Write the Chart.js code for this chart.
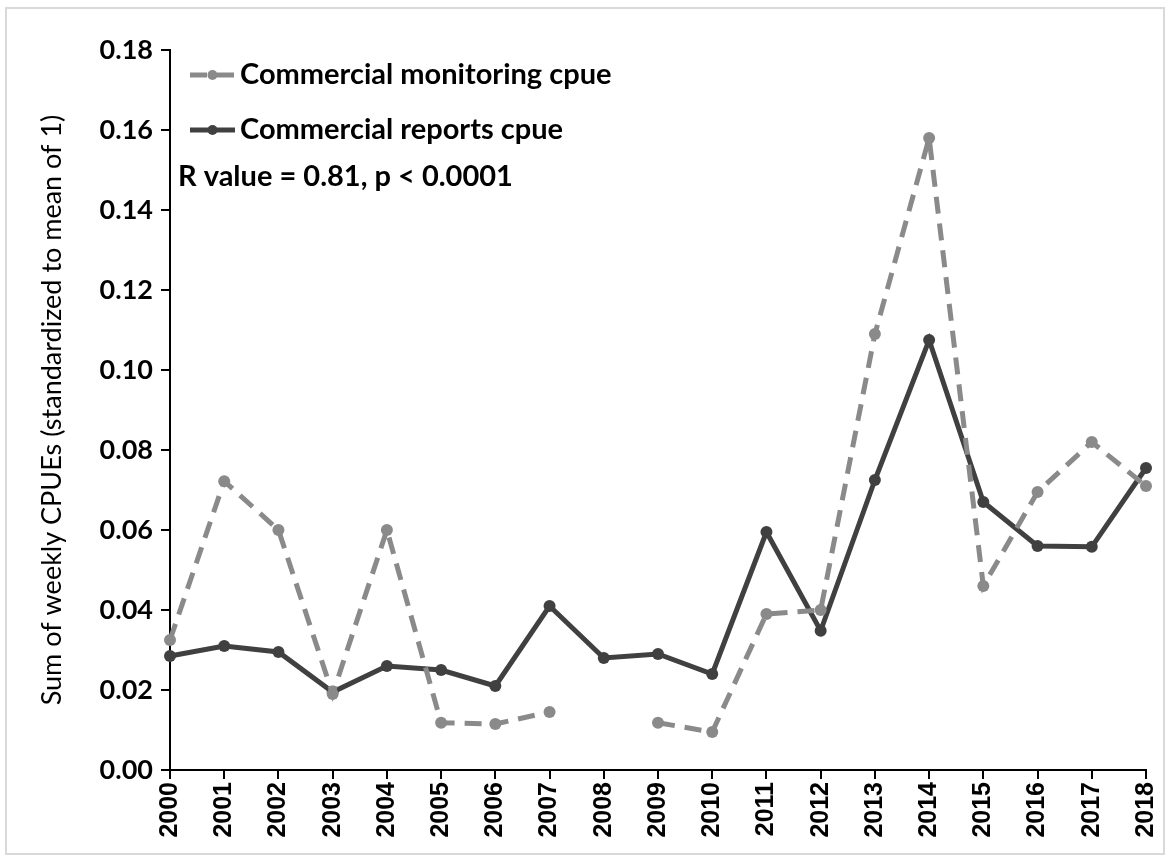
<!DOCTYPE html>
<html>
<head>
<meta charset="utf-8">
<script src="https://cdn.jsdelivr.net/npm/chart.js@4.4.0/dist/chart.umd.min.js"></script>
<style>
  html, body { margin: 0; padding: 0; background: #fff; }
  #wrap { position: absolute; left: 5px; top: 7px; width: 1160px; height: 848px; border: 2px solid #d9d9d9; box-sizing: border-box; }
  canvas { display: block; }
</style>
</head>
<body>
<div id="wrap"><canvas id="cpueChart"></canvas></div>
<script>
// Datos
const years = ['2000','2001','2002','2003','2004','2005','2006','2007','2008','2009',
               '2010','2011','2012','2013','2014','2015','2016','2017','2018'];
const monitoringCpue = [0.0325, 0.0722, 0.060, 0.019, 0.060, 0.0118, 0.0115, 0.0145, null, 0.0118,
                        0.0095, 0.039, 0.040, 0.109, 0.158, 0.046, 0.0695, 0.082, 0.071];
const reportsCpue = [0.0285, 0.031, 0.0295, 0.0195, 0.026, 0.025, 0.021, 0.041, 0.028, 0.029,
                     0.024, 0.0595, 0.0348, 0.0725, 0.1075, 0.067, 0.056, 0.0558, 0.0755];
const statText = 'R value = 0.81, p < 0.0001';

const monColor = '#8a8a8a';
const repColor = '#404040';
const labelFont = 'Lato, "Open Sans", sans-serif';

// Leyenda dibujada dentro del area del grafico
const insideLegend = {
  id: 'insideLegend',
  afterDatasetsDraw(chart) {
    const c = chart.ctx;
    const a = chart.chartArea;
    const x0 = a.left + 20, x1 = a.left + 65;
    const rows = [
      { y: a.top + 25, ds: chart.data.datasets[0] },
      { y: a.top + 80, ds: chart.data.datasets[1] }
    ];
    c.save();
    rows.forEach(r => {
      c.strokeStyle = r.ds.borderColor;
      c.lineWidth = 5;
      c.setLineDash(r.ds.borderDash || []);
      c.beginPath();
      c.moveTo(x0, r.y);
      c.lineTo(x1, r.y);
      c.stroke();
      c.setLineDash([]);
      c.fillStyle = r.ds.borderColor;
      c.beginPath();
      c.arc((x0 + x1) / 2, r.y, 5, 0, Math.PI * 2);
      c.fill();
      c.fillStyle = '#000';
      c.font = 'bold 29px ' + labelFont;
      c.textBaseline = 'middle';
      c.fillText(r.ds.label, x1 + 5, r.y);
    });
    c.fillText(statText, a.left + 8, a.top + 127);
    c.restore();
  }
};

const ctx = document.getElementById('cpueChart').getContext('2d');
const cpueChart = new Chart(ctx, {
  type: 'line',
  data: {
    labels: years,
    datasets: [
      {
        label: 'Commercial monitoring cpue',
        data: monitoringCpue,
        borderColor: monColor,
        backgroundColor: monColor,
        borderWidth: 5,
        borderDash: [17, 10],
        pointRadius: 6,
        pointBorderWidth: 0,
        spanGaps: false,
        tension: 0
      },
      {
        label: 'Commercial reports cpue',
        data: reportsCpue,
        borderColor: repColor,
        backgroundColor: repColor,
        borderWidth: 5,
        pointRadius: 6,
        pointBorderWidth: 0,
        tension: 0
      }
    ]
  },
  options: {
    responsive: true,
    maintainAspectRatio: false,
    animation: false,
    layout: { autoPadding: false, padding: { left: 0, top: 41, right: 17, bottom: 0 } },
    plugins: {
      legend: { display: false },
      tooltip: { enabled: false }
    },
    scales: {
      x: {
        offset: false,
        afterFit: s => { s.height = 83; s.paddingLeft = 0; s.paddingRight = 0; },
        grid: { drawOnChartArea: false, color: '#000', lineWidth: 2, tickLength: 9, tickColor: '#000' },
        border: { color: '#000', width: 2 },
        ticks: {
          color: '#000',
          maxRotation: 90,
          minRotation: 90,
          autoSkip: false,
          padding: 3,
          font: { family: '"Liberation Sans", Arial, sans-serif', size: 25, weight: 'bold' }
        }
      },
      y: {
        min: 0,
        max: 0.18,
        afterFit: s => { s.width = 163; s.paddingTop = 0; s.paddingBottom = 0; },
        grid: { drawOnChartArea: false, color: '#000', lineWidth: 2, tickLength: 9, tickColor: '#000' },
        border: { color: '#000', width: 2 },
        ticks: {
          stepSize: 0.02,
          color: '#000',
          padding: 8,
          font: { family: labelFont, size: 27, weight: 'bold' },
          callback: v => v.toFixed(2)
        },
        title: {
          display: true,
          text: 'Sum of weekly CPUEs (standardized to mean of 1)',
          color: '#000',
          padding: { top: 29, bottom: 0 },
          font: { family: labelFont, size: 27 }
        }
      }
    }
  },
  plugins: [insideLegend]
});
</script>
</body>
</html>
